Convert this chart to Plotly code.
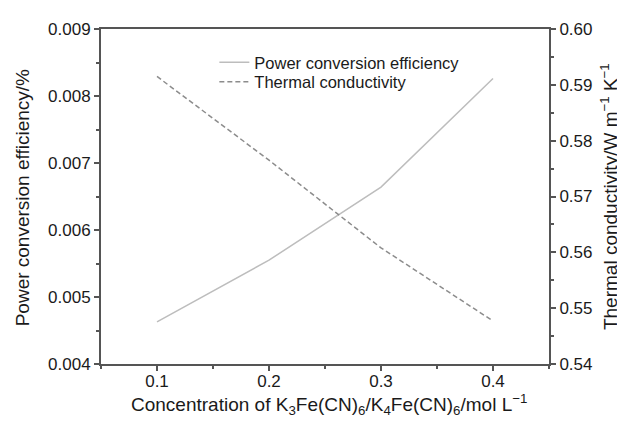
import plotly.graph_objects as go

concentration = [0.1, 0.2, 0.3, 0.4]
pce = [0.00463, 0.00555, 0.00664, 0.00826]
thermal_cond = [0.5915, 0.5765, 0.5608, 0.5477]

x_ticks = [0.1, 0.2, 0.3, 0.4]
y1_ticks = [0.004, 0.005, 0.006, 0.007, 0.008, 0.009]
y2_ticks = [0.54, 0.55, 0.56, 0.57, 0.58, 0.59, 0.60]

x_title = "Concentration of K<sub>3</sub>Fe(CN)<sub>6</sub>/K<sub>4</sub>Fe(CN)<sub>6</sub>/mol L<sup>−1</sup>"
y1_title = "Power conversion efficiency/%"
y2_title = "Thermal conductivity/W m<sup>−1</sup> K<sup>−1</sup>"

axis_col = "#555555"
text_col = "#1a1a1a"
font = "Liberation Sans, Arial, sans-serif"
tick_size = 17
title_size = 19

fig = go.Figure()
fig.add_trace(go.Scatter(x=concentration, y=pce, mode="lines",
                         name="Power conversion efficiency", legend="legend",
                         line=dict(color="#bdbdbd", width=1.5)))
fig.add_trace(go.Scatter(x=concentration, y=thermal_cond, mode="lines",
                         name="Thermal conductivity", yaxis="y2", legend="legend2",
                         line=dict(color="#8c8c8c", width=1.5, dash="5px,3px")))

common = dict(showgrid=False, zeroline=False, linecolor=axis_col, linewidth=2,
              ticks="outside", ticklen=5, tickwidth=1.5, tickcolor=axis_col,
              tickfont=dict(size=tick_size, color=text_col, family=font))

title_font = dict(size=title_size, color=text_col, family=font)
legend_common = dict(xanchor="left", yanchor="top", bgcolor="rgba(0,0,0,0)",
                     font=dict(size=16.5, color=text_col, family=font), itemwidth=30)

# page body has an 8px margin, so the figure is drawn 8px smaller
fig.update_layout(
    width=617, height=413,
    margin=dict(l=93, r=76, t=12, b=57),
    paper_bgcolor="white", plot_bgcolor="white",
    font=dict(family=font, color=text_col, size=17),
    showlegend=True,
    legend=dict(x=0.253, y=0.952, **legend_common),
    legend2=dict(x=0.253, y=0.894, **legend_common),
    xaxis=dict(range=[0.05, 0.45], tickvals=x_ticks,
               ticktext=[f"{v:.1f}" for v in x_ticks],
               mirror=True, ticklabelstandoff=-4,
               minor=dict(ticks="outside", dtick=0.05, tick0=0.05, ticklen=3,
                          tickcolor=axis_col, tickwidth=1.5),
               **common),
    yaxis=dict(range=[0.004, 0.009], tickvals=y1_ticks,
               ticktext=[f"{v:.3f}" for v in y1_ticks],
               minor=dict(ticks="outside", dtick=0.0005, tick0=0.004, ticklen=3,
                          tickcolor=axis_col, tickwidth=1.5),
               **common),
    yaxis2=dict(range=[0.54, 0.60], tickvals=y2_ticks,
                ticktext=[f"{v:.2f}" for v in y2_ticks],
                overlaying="y", side="right",
                minor=dict(ticks="outside", dtick=0.005, tick0=0.54, ticklen=3,
                           tickcolor=axis_col, tickwidth=1.5),
                **common),
    annotations=[
        dict(text=x_title, xref="paper", yref="paper", x=0.509, y=-0.12,
             xanchor="center", yanchor="middle", showarrow=False, font=title_font),
        dict(text=y1_title, xref="paper", yref="paper", x=-0.176, y=0.495,
             xanchor="center", yanchor="middle", textangle=-90, showarrow=False,
             font=title_font),
        dict(text=y2_title, xref="paper", yref="paper", x=1.133, y=0.5,
             xanchor="center", yanchor="middle", textangle=-90, showarrow=False,
             font=title_font),
    ],
)

fig.write_html("out.html")
